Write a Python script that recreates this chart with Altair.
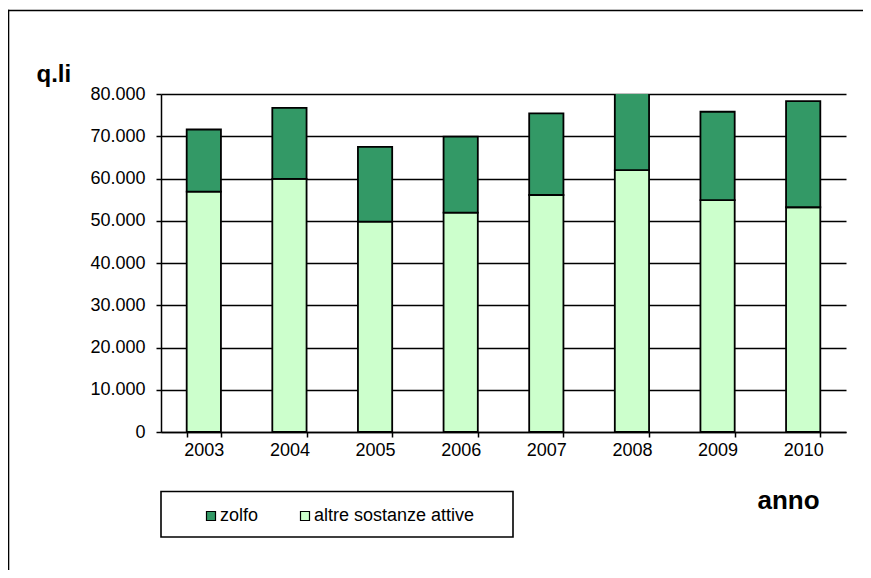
import altair as alt
import pandas as pd

years = ["2003", "2004", "2005", "2006", "2007", "2008", "2009", "2010"]
altre = [56900, 59900, 49800, 51900, 56100, 62000, 54900, 53200]
zolfo = [14700, 16800, 17700, 18000, 19300, 20000, 20900, 25100]
series = ["zolfo", "altre sostanze attive"]
colors = ["#339966", "#CCFFCC"]

rows = []
for y, a, z in zip(years, altre, zolfo):
    rows.append({"anno": y, "serie": "altre sostanze attive", "valore": a, "ord": 0})
    rows.append({"anno": y, "serie": "zolfo", "valore": z, "ord": 1})
df = pd.DataFrame(rows)

FONT = "Liberation Sans"
W, H = 685, 338
PAD = {"left": 153, "top": 86, "right": 17, "bottom": 138}

bars = alt.Chart(df).mark_bar(stroke="black", strokeWidth=1.8, clip=True).encode(
    x=alt.X("anno:N", sort=years,
            scale=alt.Scale(paddingInner=0.6, paddingOuter=0.3),
            axis=alt.Axis(title="anno", labelAngle=0, tickBand="extent", tickSize=5,
                          labelPadding=4, grid=False,
                          titleX=596, titleY=76, titleAlign="left",
                          titleBaseline="alphabetic", titleFontSize=26,
                          titleFontWeight="bold", titleFont=FONT)),
    y=alt.Y("valore:Q", stack="zero",
            scale=alt.Scale(domain=[0, 80000], nice=False),
            axis=alt.Axis(title="q.li", values=list(range(0, 80001, 10000)),
                          labelExpr="replace(format(datum.value, ','), ',', '.')",
                          tickSize=5, labelPadding=11, grid=True,
                          titleAngle=0, titleX=-125, titleY=-13, titleAlign="left",
                          titleBaseline="alphabetic", titleFontSize=24,
                          titleFontWeight="bold", titleFont=FONT)),
    color=alt.Color("serie:N",
                    scale=alt.Scale(domain=series, range=colors),
                    legend=alt.Legend(orient="none", legendX=41, legendY=413,
                                      direction="horizontal", title=None,
                                      symbolType="square", symbolSize=81,
                                      symbolStrokeColor="black", symbolStrokeWidth=1.2,
                                      labelFontSize=18, labelFont=FONT, labelColor="black",
                                      labelOffset=0, labelLimit=400,
                                      columnPadding=37, padding=0)),
    order=alt.Order("ord:Q"),
)

one = pd.DataFrame({"k": [0]})
frame_top = alt.Chart(one).mark_rect(fill="black", strokeWidth=0).encode(
    x=alt.value(-153.3), x2=alt.value(W + PAD["right"]),
    y=alt.value(-84.3), y2=alt.value(-82.7)
)
frame_left = alt.Chart(one).mark_rect(fill="black", strokeWidth=0).encode(
    x=alt.value(-153.3), x2=alt.value(-151.7),
    y=alt.value(-84.3), y2=alt.value(H + PAD["bottom"])
)
legend_box = alt.Chart(one).mark_rect(fill="transparent", stroke="black", strokeWidth=1.6).encode(
    x=alt.value(0), x2=alt.value(352), y=alt.value(397.5), y2=alt.value(443)
)

chart = alt.layer(bars, frame_top, frame_left, legend_box).properties(
    width=W, height=H,
    autosize=alt.AutoSizeParams(type="none"),
    padding=PAD,
    background="white",
).configure_view(stroke="transparent").configure_axis(
    labelFont=FONT, labelFontSize=18, labelColor="black",
    domainColor="black", domainWidth=1.5,
    tickColor="black", tickWidth=1.5,
    gridColor="black", gridWidth=1.5, gridOpacity=1,
    titleColor="black",
)

chart.save("out.html", embed_options={"renderer": "svg", "actions": False})
